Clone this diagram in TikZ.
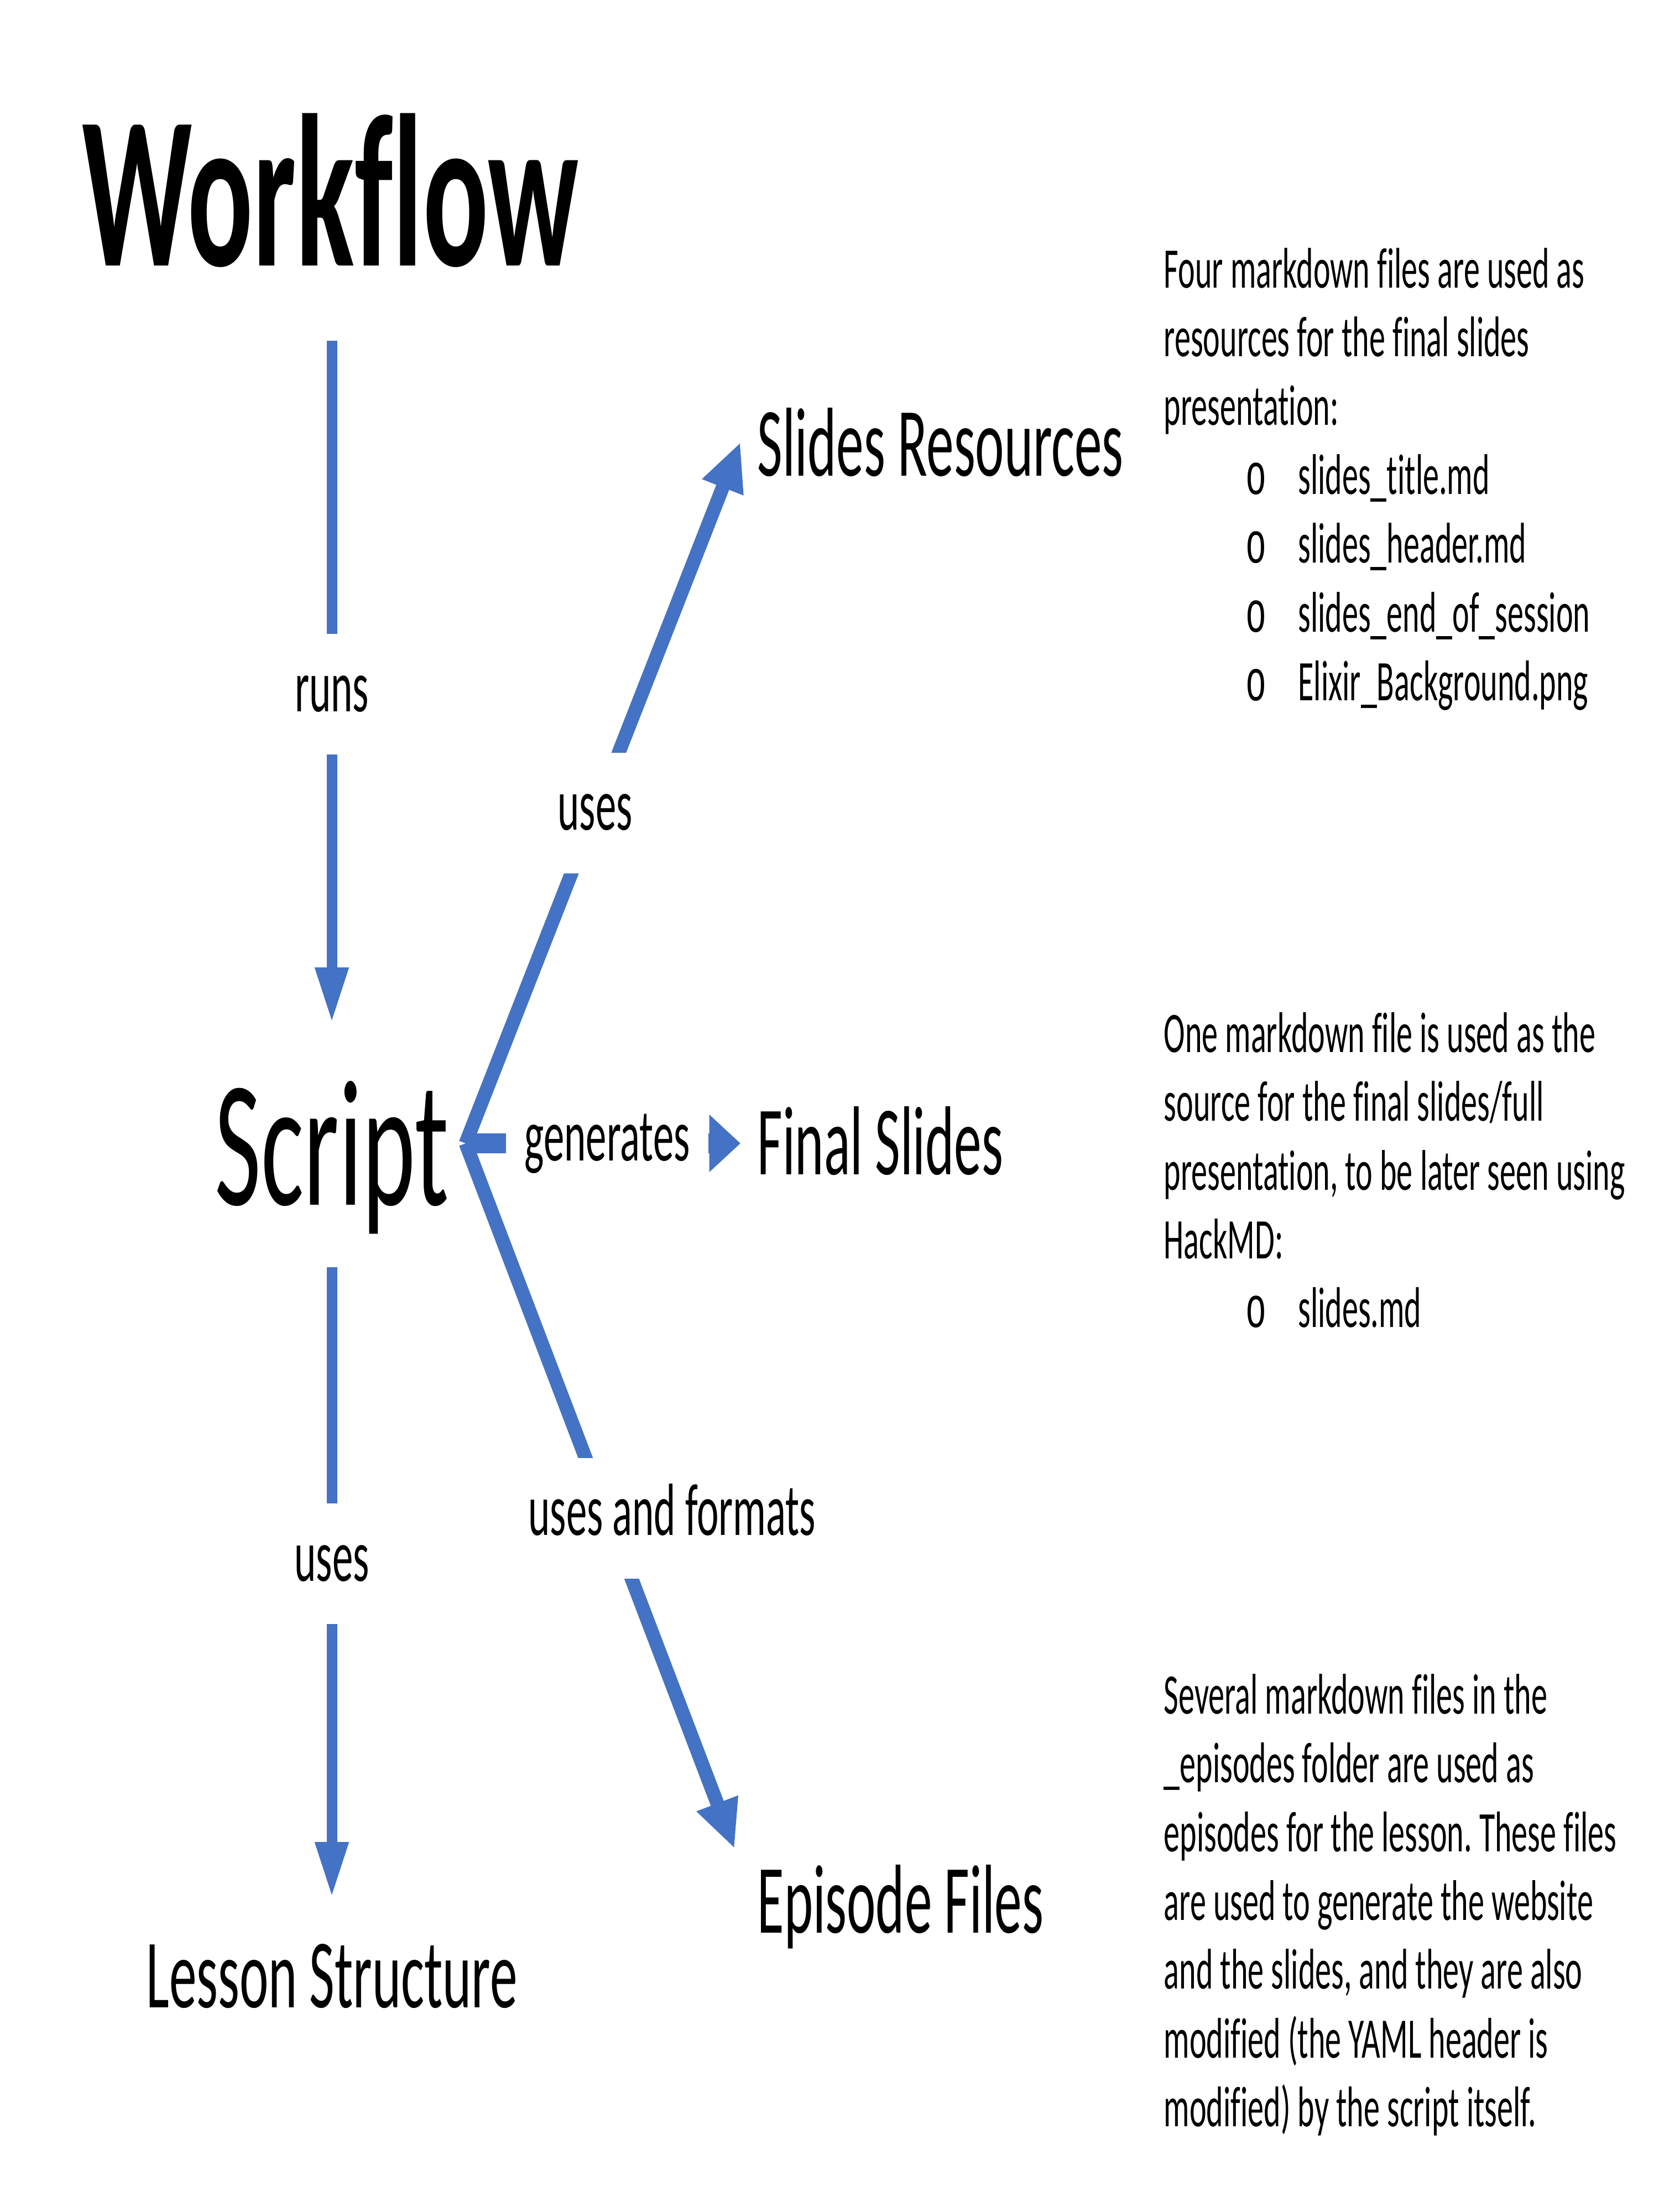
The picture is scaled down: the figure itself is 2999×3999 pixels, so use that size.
\documentclass[tikz,border=0pt]{standalone}
\usepackage{fontspec}
\setmainfont{Carlito}[FakeStretch=0.56, Ligatures=NoCommon]
\newfontfamily\bulletfont{Liberation Mono}[FakeStretch=0.6]
\usetikzlibrary{arrows.meta}
\usetikzlibrary{positioning}
\definecolor{flowblue}{HTML}{4472C4}
\newcommand{\bitem}[1]{\makebox[69pt][l]{\hspace*{42pt}{\bulletfont\fontsize{30}{35.4}\selectfont o}}#1}
\newcommand{\notefont}{\fontsize{29.5}{35.4}\selectfont\frenchspacing}

\begin{document}
\begin{tikzpicture}[x=0.01cm, y=-0.01cm,
  title/.style={inner sep=0pt, font=\fontsize{111.7}{120}\selectfont\bfseries},
  bigtxt/.style={inner sep=0pt, font=\fontsize{92.6}{100}\selectfont},
  midtxt/.style={inner xsep=8.5pt, inner ysep=0pt, font=\fontsize{50.4}{55}\selectfont},
  lbl/.style={fill=white, inner xsep=9.5pt, text height=17.7pt, text depth=0pt,
    minimum height=62pt, font=\fontsize{38}{40}\selectfont},
  note/.style={inner sep=0pt, anchor=base west, font=\notefont},
  runarrow/.style={draw=flowblue, line width=5.4pt, -{Triangle[length=28.5pt, width=16pt]}},
  branch/.style={draw=flowblue, line width=7.1pt, -{Triangle[length=25pt, width=21pt]}},
  genarrow/.style={draw=flowblue, line width=10pt, -{Triangle[length=16pt, width=28.5pt]}}]

  \fill[white] (0,0) rectangle (2999,3999);

  % left column
  \node[title, anchor=base west] (workflow) at (148,480) {Workflow};
  \node[bigtxt, anchor=base] (script) at (600,2178) {Script};
  \node[midtxt, anchor=base] (lesson) at (600,3629) {Lesson Structure};

  % middle column
  \node[midtxt, anchor=base west] (res) at (1339,860) {Slides Resources};
  \node[midtxt, anchor=base west] (final) at (1339,2123) {Final Slides};
  \node[midtxt, anchor=base west] (episode) at (1339,3494) {Episode Files};

  \coordinate (fork) at (842,2067);

  \draw[runarrow, shorten <=37.6pt, shorten >=29.6pt]
    (workflow.south -| script.north) -- node[lbl, pos=0.525] (runs) {runs} (script.north);
  \draw[runarrow, shorten <=17pt, shorten >=23.6pt]
    (script.south) -- node[lbl, pos=0.465] (useslesson) {uses} (lesson.north);

  \draw[branch] (fork) -- node[lbl, pos=0.471] (usesres) {uses} (res.west);
  \draw[genarrow] (fork) -- node[lbl, pos=0.515] (gen) {generates} (fork -| final.west);
  \draw[branch, shorten >=8.5pt]
    (fork) -- node[lbl, pos=0.52, xshift=32.7pt] (usesfmt) {uses and formats} (episode.north west);

  % notes on the right
  \node[note] (resnote) at (2104,520) {\begin{tabular}[t]{@{}l@{}}
    Four markdown files are used as\\
    resources for the final slides\\
    presentation:\\
    \bitem{slides\_title.md}\\
    \bitem{slides\_header.md}\\
    \bitem{slides\_end\_of\_session}\\
    \bitem{Elixir\_Background.png}
  \end{tabular}};
  \node[note] (finalnote) at (2104,1902) {\begin{tabular}[t]{@{}l@{}}
    One markdown file is used as the\\
    source for the final slides/full\\
    presentation, to be later seen using\\
    HackMD:\\
    \bitem{slides.md}
  \end{tabular}};
  \node[note] (episodenote) at (2104,3098) {\begin{tabular}[t]{@{}l@{}}
    Several markdown files in the\\
    \_episodes folder are used as\\
    episodes for the lesson. These files\\
    are used to generate the website\\
    and the slides, and they are also\\
    modified (the YAML header is\\
    modified) by the script itself.
  \end{tabular}};
\end{tikzpicture}
\end{document}
